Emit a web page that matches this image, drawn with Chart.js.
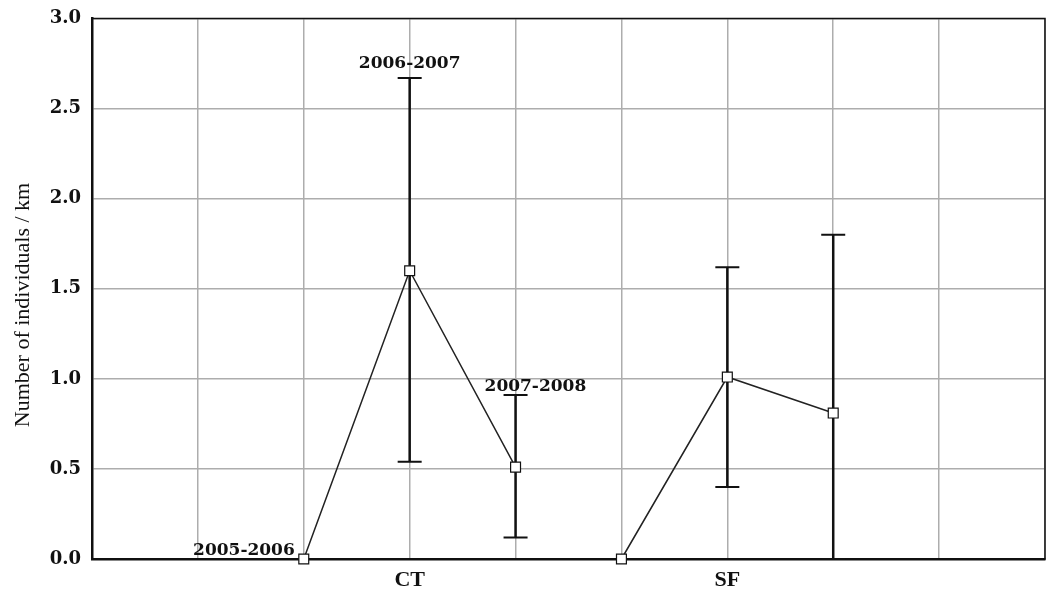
<!DOCTYPE html>
<html>
<head>
<meta charset="utf-8">
<script src="https://cdn.jsdelivr.net/npm/chart.js@4.4.1/dist/chart.umd.min.js"></script>
<style>
  html, body { margin: 0; padding: 0; background: #fff; }
  #wrap { width: 1049px; height: 591px; }
</style>
</head>
<body>
<div id="wrap"><canvas id="densityChart" width="1049" height="591"></canvas></div>
<script>
const periods = ['2005-2006', '2006-2007', '2007-2008'];
const sites = ['CT', 'SF'];
const siteSlots = [3, 6];
const yTicks = [0, 0.5, 1.0, 1.5, 2.0, 2.5, 3.0];
const yTitle = 'Number of individuals / km';

// slot of each point on the 9-slot x grid
const ctSlots = [2, 3, 4];
const sfSlots = [5, 6, 7];

const ctMean = [0, 1.60, 0.51];
const ctLow = [0, 0.54, 0.12];
const ctHigh = [0, 2.67, 0.91];

const sfMean = [0, 1.01, 0.81];
const sfLow = [0, 0.40, 0];
const sfHigh = [0, 1.62, 1.80];

const serifBold = (size) => ({ family: '"DejaVu Serif", serif', weight: 'bold', size });

const errorBars = {
  id: 'errorBars',
  beforeDatasetsDraw(chart) {
    const { ctx, chartArea, scales: { x, y } } = chart;
    ctx.save();
    // top and right frame
    ctx.strokeStyle = '#111';
    ctx.lineWidth = 1.5;
    ctx.strokeRect(chartArea.left, chartArea.top, chartArea.right - chartArea.left, chartArea.bottom - chartArea.top);

    chart.data.datasets.forEach(ds => {
      ds.data.forEach((p, i) => {
        if (ds.high[i] === ds.low[i]) return;
        const px = x.getPixelForValue(p.x);
        const top = y.getPixelForValue(ds.high[i]);
        const bot = y.getPixelForValue(ds.low[i]);
        ctx.lineWidth = 2.5;
        ctx.beginPath();
        ctx.moveTo(px, top);
        ctx.lineTo(px, bot);
        ctx.stroke();
        ctx.lineWidth = 2;
        ctx.beginPath();
        ctx.moveTo(px - 12, top); ctx.lineTo(px + 12, top);
        ctx.moveTo(px - 12, bot); ctx.lineTo(px + 12, bot);
        ctx.stroke();
      });
    });
    ctx.restore();
  }
};

const periodLabels = {
  id: 'periodLabels',
  afterDatasetsDraw(chart) {
    const { ctx, scales: { x, y } } = chart;
    const ds = chart.data.datasets[0];
    ctx.save();
    ctx.fillStyle = '#111';
    ctx.font = 'bold 17px "DejaVu Serif", serif';
    ctx.textBaseline = 'alphabetic';
    ds.data.forEach((p, i) => {
      const px = x.getPixelForValue(p.x);
      const py = y.getPixelForValue(p.y);
      const top = y.getPixelForValue(ds.high[i]);
      if (i === 0) {
        ctx.textAlign = 'right';
        ctx.fillText(periods[i], px - 9, py - 4);
      } else if (i === 1) {
        ctx.textAlign = 'center';
        ctx.fillText(periods[i], px, top - 10);
      } else {
        ctx.textAlign = 'left';
        ctx.fillText(periods[i], px - 31, top - 4);
      }
    });

    // y axis title
    ctx.font = '22px "Liberation Serif", serif';
    ctx.textAlign = 'center';
    ctx.textBaseline = 'middle';
    ctx.translate(23, 305);
    ctx.rotate(-Math.PI / 2);
    ctx.fillText(yTitle, 0, 0);
    ctx.restore();
  }
};

const lineStyle = {
  type: 'line',
  borderColor: '#222',
  borderWidth: 1.5,
  pointStyle: 'rect',
  pointRadius: 7,
  pointBackgroundColor: '#fff',
  pointBorderColor: '#111',
  pointBorderWidth: 1.2,
  clip: false
};

const noPad = s => { s.paddingTop = 0; s.paddingRight = 0; s.paddingLeft = 0; s.paddingBottom = 0; };

new Chart(document.getElementById('densityChart'), {
  type: 'line',
  data: {
    datasets: [
      { ...lineStyle, label: sites[0], data: ctSlots.map((s, i) => ({ x: s, y: ctMean[i] })), low: ctLow, high: ctHigh },
      { ...lineStyle, label: sites[1], data: sfSlots.map((s, i) => ({ x: s, y: sfMean[i] })), low: sfLow, high: sfHigh }
    ]
  },
  options: {
    responsive: false,
    animation: false,
    layout: { autoPadding: false, padding: { top: 18.5, right: 4, bottom: 0, left: 0 } },
    plugins: { legend: { display: false }, tooltip: { enabled: false } },
    scales: {
      x: {
        type: 'linear',
        min: 0,
        max: 9,
        afterFit: s => { s.height = 32; noPad(s); },
        grid: { color: '#adadad', lineWidth: 1.5, drawTicks: false },
        border: { color: '#111', width: 2.5 },
        ticks: {
          stepSize: 1,
          autoSkip: false,
          maxRotation: 0,
          padding: 8,
          color: '#111',
          font: { family: '"Liberation Serif", serif', weight: 'bold', size: 22 },
          callback: v => {
            const k = siteSlots.indexOf(v);
            return k >= 0 ? sites[k] : '';
          }
        }
      },
      y: {
        min: 0,
        max: 3,
        afterFit: s => { s.width = 92; noPad(s); },
        afterBuildTicks: s => { s.ticks = yTicks.map(v => ({ value: v })); },
        grid: { color: '#adadad', lineWidth: 1.5, drawTicks: false },
        border: { color: '#111', width: 2.5 },
        ticks: {
          padding: 11,
          color: '#111',
          font: serifBold(18),
          callback: v => v.toFixed(1)
        }
      }
    }
  },
  plugins: [errorBars, periodLabels]
});
</script>
</body>
</html>
